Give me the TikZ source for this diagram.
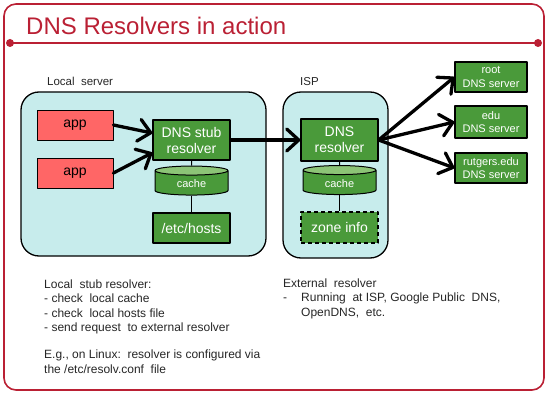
\documentclass[tikz,border=0pt]{standalone}
\usepackage{fontspec}
\setmainfont{Liberation Sans}
\usetikzlibrary{shapes.geometric,arrows.meta}

\definecolor{slidered}{RGB}{186,32,52}
\definecolor{boxblue}{RGB}{199,236,236}
\definecolor{appred}{RGB}{255,102,102}
\definecolor{dnsgreen}{RGB}{74,154,58}
\definecolor{lightgreen}{RGB}{140,196,118}

\tikzset{
  host/.style={draw=black, line width=1.3pt, fill=boxblue, rounded corners=18pt},
  appbox/.style={draw=black, line width=0.9pt, fill=appred, minimum width=76pt,
    minimum height=30pt, font=\fontsize{14}{16}\selectfont},
  dnsbox/.style={draw=black, line width=1.3pt, fill=dnsgreen, text=white, align=center,
    minimum width=77pt, font=\fontsize{14}{16}\selectfont},
  srvbox/.style={draw=black, line width=1.2pt, fill=dnsgreen, text=white, align=center,
    minimum width=72pt, minimum height=30pt, inner sep=1pt, font=\fontsize{11}{13.5}\selectfont},
  cachedb/.style={cylinder, shape border rotate=90, aspect=0.25, draw=black, line width=1pt,
    cylinder uses custom fill, cylinder body fill=dnsgreen, cylinder end fill=lightgreen,
    minimum width=73pt, minimum height=29pt, text=white, font=\fontsize{11}{12}\selectfont},
  flow/.style={line width=3.3pt, line cap=round,
    -{Straight Barb[length=12pt,width=22pt,line width=3.3pt,round]}},
  link/.style={line width=1pt},
  note/.style={anchor=base west, align=left, inner sep=0pt, text=black!85,
    font=\fontsize{12}{14.5}\selectfont}
}

\begin{document}
\begin{tikzpicture}[x=1pt, y=-1pt, line join=round]

    \useasboundingbox (0,0) rectangle (548,395);

    % Slide frame and title
    \draw[slidered, line width=1.6pt, rounded corners=12pt] (4,4) rectangle (544,390);
    \draw[slidered, line width=2.5pt] (10,43) -- (538,43);
    \fill[slidered] (10,43) circle (4pt);
    \fill[slidered] (538,43) circle (4pt);
    \node[anchor=base west, inner sep=0pt, text=slidered, font=\fontsize{24}{30}\selectfont]
        (title) at (26,35) {DNS Resolvers in action};

    % Hosts
    \draw[host] (21,92) rectangle (266,256);
    \draw[host] (283,92) rectangle (388,258);
    \node[note, font=\fontsize{11.5}{14}\selectfont] (locallbl) at (47,86) {Local\ \ server};
    \node[note, font=\fontsize{11.5}{14}\selectfont] (isplbl) at (300,86) {ISP};

    % Local server
    \node[appbox] (app1) at (75,125) {app};
    \node[appbox] (app2) at (75,173) {app};
    \node[dnsbox, minimum height=40pt] (stub) at (191.5,140) {DNS stub\\resolver};
    \node[cachedb] (cache1) at (191.5,184) {cache};
    \node[dnsbox, minimum height=30pt] (hosts) at (191.5,228) {/etc/hosts};

    % ISP resolver
    \node[dnsbox, minimum height=42pt] (resolver) at (339.5,140) {DNS\\resolver};
    \node[cachedb] (cache2) at (339.5,183.5) {cache};
    \node[dnsbox, minimum height=31pt, dashed, dash pattern=on 4pt off 3pt] (zone)
        at (339.5,227.5) {zone info};

    % Name servers
    \node[srvbox] (root) at (491,77) {root\\DNS server};
    \node[srvbox, minimum height=32pt] (edu) at (491,122) {edu\\DNS server};
    \node[srvbox] (rutgers) at (491,168) {rutgers.edu\\DNS server};

    % Connections
    \draw[link] (stub) -- (cache1);
    \draw[link] (cache1) -- (hosts);
    \draw[link] (resolver) -- (cache2);
    \draw[link] (cache2) -- (zone);

    \draw[flow] (app1.east) -- (stub.170);
    \draw[flow] (app2.east) -- (stub.198);
    \draw[flow] (stub.east) -- (resolver.west);
    \draw[flow] (resolver.east) -- (root.west);
    \draw[flow] (resolver.east) -- (edu.west);
    \draw[flow] (resolver.east) -- (rutgers.west);

    % Notes (anchored at the baseline of the last line)
    \node[note] (stubnote) at (44,331.5) {Local\ \ stub resolver:\\
        - check\ \ local cache\\
        - check\ \ local hosts file\\
        - send request\ \ to external resolver};
    \node[note] (linuxnote) at (44,373) {E.g., on Linux:\ \ resolver is configured via\\
        the /etc/resolv.conf\ \ file};
    \node[note] (extnote) at (283,316) {External\ \ resolver\\
        \makebox[18pt][l]{-}Running\ \ at ISP, Google Public\ \ DNS,\\
        \hspace*{18pt}OpenDNS,\ \ etc.};

\end{tikzpicture}
\end{document}
